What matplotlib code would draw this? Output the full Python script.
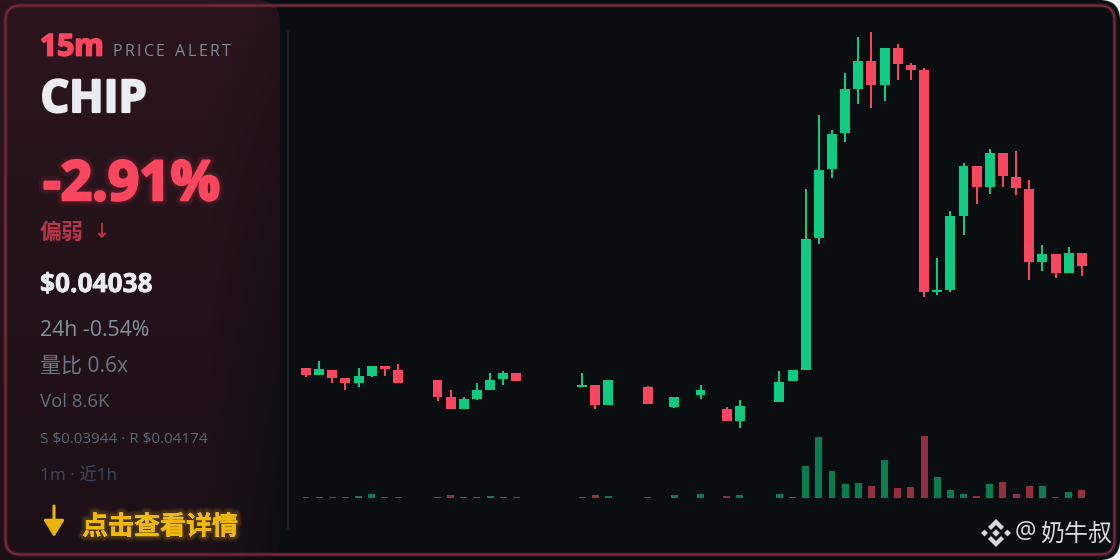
import numpy as np
import matplotlib
matplotlib.use("Agg")
import matplotlib.pyplot as plt
import matplotlib.patheffects as pe
from matplotlib.patches import FancyBboxPatch, Polygon

plt.rcParams['font.family'] = ['Open Sans', 'Noto Sans CJK SC', 'DejaVu Sans']

nan = float('nan')

# price in 1e-5 USD, one row per 1m candle, nan = no trade
opens = [3935, 3928.3, 3933, 3924.7, 3920, 3927, 3936.7, 3933.3, nan, nan,
         3923, 3906, 3894.3, 3904.3, 3913.3, 3923.7, 3929.7, nan, nan, nan,
         nan, 3916.3, 3917.7, 3897.7, nan, nan, 3916.3, nan, 3896, nan,
         3908.3, nan, 3893.7, 3882.3, nan, nan, 3901, 3921.7, 3933.5, 4065,
         4133.7, 4169.7, 4214.3, 4241.7, 4218, 4255.3, 4238, 4232.7, 4011, 4013,
         4087.3, 4136.7, 4116.3, 4150.3, 4126, 4114, 4040.7, 4049, 4030.3, 4050.3]
highs = [3935, 3942, 3933.5, 3924.7, 3935.3, 3936.7, 3936.7, 3939, nan, nan,
         3923, 3912.7, 3906, 3920, 3930, 3931.7, 3929.7, nan, nan, nan,
         nan, 3930, 3917.7, 3923, nan, nan, 3917, nan, 3905.7, nan,
         3918, nan, 3896, 3902.7, nan, nan, 3931.7, 3933.3, 4114, 4188.3,
         4172.7, 4229.7, 4265.7, 4271, 4255.3, 4259, 4240, 4235, 4045.3, 4092,
         4140, 4136.7, 4153.7, 4150.3, 4152.3, 4123, 4057.7, 4049, 4055.7, 4050.3]
lows = [3926.3, 3928.3, 3919.7, 3913, 3916.3, 3926.3, 3926.7, 3920, nan, nan,
        3902.3, 3894.3, 3894.3, 3902.7, 3913.3, 3918, 3921.7, nan, nan, nan,
        nan, 3916.3, 3894, 3897.7, nan, nan, 3899.3, nan, 3895.5, nan,
        3904.3, nan, 3882.3, 3875, nan, nan, 3901, 3921.7, 3933.5, 4059.3,
        4124.7, 4161, 4198.7, 4195.3, 4202.3, 4223, 4223, 4006, 4007.7, 4011.3,
        4068, 4099.3, 4109.3, 4116.3, 4107.7, 4023.3, 4032, 4025, 4030.3, 4026.7]
closes = [3928.3, 3933.7, 3925.3, 3920.3, 3926.7, 3936.7, 3933.7, 3920, nan, nan,
          3906.3, 3894.3, 3904, 3912.7, 3922.7, 3929.7, 3921.7, nan, nan, nan,
          nan, 3918, 3898, 3923, nan, nan, 3899.3, nan, 3905.7, nan,
          3912.7, nan, 3882.3, 3897.3, nan, nan, 3921, 3933.3, 4064.3, 4133,
          4169.3, 4214, 4241.7, 4218, 4255.3, 4238.7, 4233.3, 4011.3, 4012.7, 4086.7,
          4136.7, 4116.3, 4150, 4127, 4114.7, 4040.7, 4049, 4030.3, 4050.3, 4037]
volumes = [1, 1, 1, 1, 1.7, 3.7, 1, 1, 0, 0,
           1, 2.7, 1, 0.8, 1.5, 0.8, 1, 0, 0, 0,
           0, 1, 3, 2, 0, 0, 0.8, 0, 3, 0,
           3.7, 0, 2, 3, 0, 0, 3.7, 0.8, 31.3, 61,
           26.5, 13.7, 14.3, 11.3, 37.7, 10, 10.3, 61.7, 20.7, 7.7,
           4, 1.7, 13.7, 15.7, 4, 11.7, 12, 0.8, 5.3, 7.7]

GREEN = '#0ecb81'
RED = '#f9465f'
VOL_GREEN = '#0a7d50'
VOL_RED = '#932f40'
BG = '#0b0e11'


def spaced_text(ax, x, y, s, gap, **kw):
    # matplotlib has no letter-spacing, so place letters one at a time
    rend = ax.figure.canvas.get_renderer()
    for ch in s:
        t = ax.text(x, y, ch, **kw)
        if ch == ' ':
            x += kw['fontsize'] * 0.36 / 0.72 + gap
        else:
            x += t.get_window_extent(rend).width + gap


def heavy(color, width=1.0):
    # Open Sans bold is lighter than the original, fatten it with a stroke
    return [pe.withStroke(linewidth=width, foreground=color)]


def glow(color, widths=(8, 5, 3), alpha=0.07, core=0.0):
    effects = [pe.withStroke(linewidth=w, foreground=color, alpha=alpha) for w in widths]
    if core:
        effects.append(pe.withStroke(linewidth=core, foreground=color))
    return effects + [pe.Normal()]


fig = plt.figure(figsize=(11.2, 5.6), dpi=100, facecolor='white')

# background layer in pixel coordinates
bg = fig.add_axes([0, 0, 1, 1])
bg.axis('off')

card = FancyBboxPatch((0, 0), 1120, 560, boxstyle='round,pad=0,rounding_size=20',
                      fc=BG, ec='none', zorder=1)
bg.add_patch(card)

# left panel, reddish and fading to the right / bottom
yy, xx = np.mgrid[0:1:80j, 0:1:80j]
top = np.array([0x2c, 0x15, 0x1c]) / 255
bottom = np.array([0x1c, 0x10, 0x17]) / 255
base = np.array([0x0b, 0x0e, 0x11]) / 255
panel = top[None, None, :] * (1 - yy[..., None]) + bottom[None, None, :] * yy[..., None]
fade = np.clip((xx - 0.75) / 0.25, 0, 1)[..., None] * (0.15 + 0.55 * yy[..., None])
panel = panel * (1 - fade) + base[None, None, :] * fade
im = bg.imshow(panel, extent=(0, 280, 560, 0), aspect='auto', zorder=2, interpolation='bilinear')
panel_clip = FancyBboxPatch((-30, 0), 310, 560, boxstyle='round,pad=0,rounding_size=22',
                            fc='none', ec='none', transform=bg.transData)
bg.add_patch(panel_clip)
bg.set_xlim(0, 1120)
bg.set_ylim(560, 0)
im.set_clip_path(panel_clip)

bg.add_patch(FancyBboxPatch((5.5, 5.5), 1109, 549, boxstyle='round,pad=0,rounding_size=15',
                            fc='none', ec='#752a3b', lw=3.2, alpha=0.3, zorder=3))
bg.add_patch(FancyBboxPatch((5.5, 5.5), 1109, 549, boxstyle='round,pad=0,rounding_size=15',
                            fc='none', ec='#75293b', lw=1.5, zorder=3))
bg.plot([288, 288], [32, 528], color='#1d2229', lw=1.4, zorder=3)

# binance style mark next to the watermark
mark = '#d8d8d8'
for cx, cy, r in [(996, 533, 3.8), (984.5, 533, 3.4), (1007.5, 533, 3.4)]:
    bg.add_patch(Polygon([(cx - r, cy), (cx, cy - r), (cx + r, cy), (cx, cy + r)], fc=mark, ec='none', zorder=5))
bg.add_patch(Polygon([(996, 519), (1004, 527), (1001, 530), (996, 525), (991, 530), (988, 527)], fc=mark, ec='none', zorder=5))
bg.add_patch(Polygon([(996, 547), (1004, 539), (1001, 536), (996, 541), (991, 536), (988, 539)], fc=mark, ec='none', zorder=5))

# chart layer
X0, STEP = 306.0, 13.15
L, R, T, B = 288, 1100, 20, 540
ax = fig.add_axes([L / 1120, 1 - B / 560, (R - L) / 1120, (B - T) / 560])
ax.patch.set_alpha(0)
ax.set_xlim((L - X0) / STEP, (R - X0) / STEP)
ax.set_ylim(4303 - B, 4303 - T)
ax.axis('off')

ax_v = ax.twinx()
ax_v.patch.set_alpha(0)
ax_v.set_ylim(497.7 - B, 497.7 - T)
ax_v.axis('off')

idx = np.arange(len(opens))
o = np.array(opens)
h = np.array(highs)
l = np.array(lows)
c = np.array(closes)
v = np.array(volumes)
up = c >= o
have = ~np.isnan(o)
colors = np.where(up, GREEN, RED)

ax.vlines(idx[have], l[have], h[have], colors=colors[have], lw=1.45, zorder=2)
ax.bar(idx[have], np.abs(c - o)[have], bottom=np.minimum(o, c)[have], width=0.76,
       color=colors[have], zorder=3)
ax_v.bar(idx[have], v[have], width=0.53, color=np.where(up, VOL_GREEN, VOL_RED)[have])

# text layer, on top of everything
tx = fig.add_axes([0, 0, 1, 1])
tx.set_xlim(0, 1120)
tx.set_ylim(560, 0)
tx.axis('off')
tx.patch.set_alpha(0)
fig.canvas.draw()

PX = 0.72  # px to pt at 100 dpi
tx.text(40, 55.5, '15m', color='#fb4660', fontsize=30 * PX, fontweight='bold', va='baseline',
        path_effects=heavy('#fb4660', 1.3))
spaced_text(tx, 113, 55.5, 'PRICE ALERT', 2.3, color='#7f8894', fontsize=16 * PX, va='baseline')
tx.text(40.5, 112, 'CHIP', color='#eaecef', fontsize=45 * PX, fontweight='bold', va='baseline',
        path_effects=heavy('#eaecef', 1.6))
tx.text(43, 200, '-2.91%', color='#fb4660', fontsize=55 * PX, fontweight='bold', va='baseline',
        path_effects=glow('#fb4660', core=1.8))
tx.text(40, 233, '偏弱', color='#b8344c', fontsize=22 * PX, fontweight='bold', va='center')
tx.text(94, 232, '↓', color='#b8344c', fontsize=16 * PX, va='center', family='Noto Sans CJK SC',
        path_effects=heavy('#b8344c', 0.5))
tx.text(40, 292, r'\$0.04038', color='#eaecef', fontsize=26.3 * PX, fontweight='bold', va='baseline',
        path_effects=heavy('#eaecef', 0.5))
tx.text(40, 336, '24h -0.54%', color='#848e9c', fontsize=21.3 * PX, va='baseline')
tx.text(40, 367, '量比 0.6x', color='#6d7683', fontsize=21 * PX, va='center')
tx.text(40, 407, 'Vol 8.6K', color='#626b79', fontsize=18.7 * PX, va='baseline')
tx.text(40, 443, r'S \$0.03944 · R \$0.04174', color='#5c6472', fontsize=15.2 * PX, va='baseline')
tx.text(40, 477, '1m · 近1h', color='#3c4560', fontsize=17.2 * PX, va='center')
tx.text(82, 527, '点击查看详情', color='#f0b90b', fontsize=26 * PX, fontweight='bold', va='center',
        path_effects=glow('#f0b90b', widths=(7, 5, 3), alpha=0.08))
tx.annotate('', xy=(54, 537), xytext=(54, 506),
            arrowprops=dict(arrowstyle='-|>,head_width=0.62,head_length=1.0', color='#e8b30b', lw=2.2,
                            shrinkA=0, shrinkB=0))
tx.text(1015, 532, '@', color=mark, fontsize=24 * PX, va='center')
tx.text(1040, 535, '奶牛叔', color=mark, fontsize=24 * PX, va='center')

fig.savefig('out.png', dpi=100, facecolor='white')
